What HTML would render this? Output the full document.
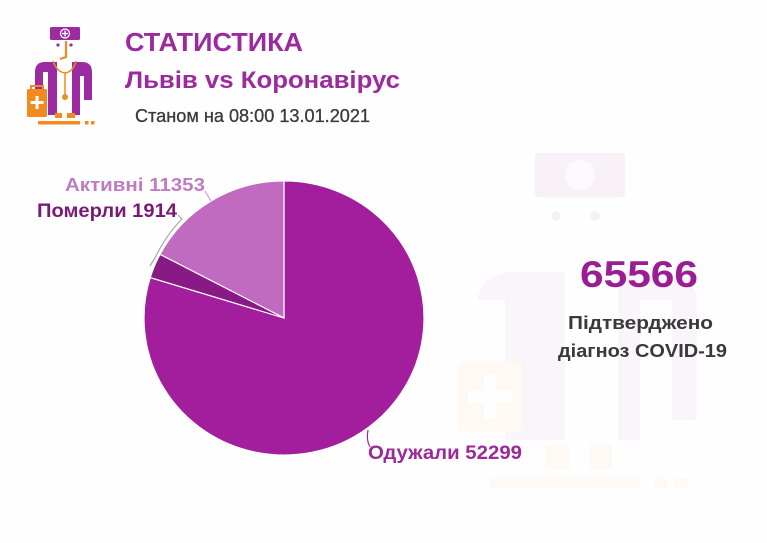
<!DOCTYPE html>
<html><head><meta charset="utf-8"><style>
html,body{margin:0;padding:0;background:#fff;}
svg{display:block;}
text{font-family:"Liberation Sans",sans-serif;}
</style></head><body>
<svg width="767" height="543" viewBox="0 0 767 543" xmlns="http://www.w3.org/2000/svg">
<rect width="767" height="543" fill="#fefefe"/>
<!-- watermark -->
<g>
  <rect x="535" y="153" width="90" height="44" rx="3" fill="#f8f1f8"/>
  <circle cx="580" cy="175" r="15" fill="#fcf9fc"/>
  <circle cx="556" cy="216" r="5" fill="#f7f0f7"/>
  <circle cx="595" cy="216" r="5" fill="#f7f0f7"/>
  <path d="M478 300 Q480 275 510 272 L545 272 L545 440 L505 440 L505 300 Z" fill="#faf5fa"/>
  <path d="M640 272 L665 272 Q695 275 697 300 L697 420 L672 420 L672 300 L640 300 Z" fill="#faf5fa"/>
  <rect x="545" y="272" width="20" height="168" fill="#faf5fa"/>
  <rect x="618" y="272" width="22" height="168" fill="#faf5fa"/>
  <rect x="458" y="362" width="64" height="70" rx="4" fill="#fef9f2"/>
  <rect x="484" y="375" width="12" height="44" fill="#fefefe"/>
  <rect x="468" y="391" width="44" height="12" fill="#fefefe"/>
  <rect x="545" y="445" width="24" height="24" fill="#fefaf3"/>
  <rect x="590" y="445" width="22" height="24" fill="#fefaf3"/>
  <rect x="490" y="478" width="150" height="10" fill="#fefaf3"/>
  <rect x="655" y="478" width="12" height="10" fill="#fefaf3"/>
  <rect x="675" y="478" width="12" height="10" fill="#fefaf3"/>
</g>

<!-- logo -->
<g>
  <rect x="50" y="27" width="30" height="13" rx="1.5" fill="#9c2aa0"/>
  <circle cx="65" cy="33.5" r="4.5" fill="none" stroke="#fff" stroke-width="1.3"/>
  <rect x="64.4" y="30.5" width="1.3" height="6" fill="#fff"/>
  <rect x="62" y="32.9" width="6" height="1.3" fill="#fff"/>
  <circle cx="58" cy="45" r="1.6" fill="#9c2aa0"/>
  <circle cx="71" cy="45" r="1.6" fill="#9c2aa0"/>
  <path d="M66 41 L66 57 L60 59" fill="none" stroke="#f28a1e" stroke-width="2.2"/>
  <path d="M35 115 L35 72 Q35 62 45 62 L57 62 L57 115 Z" fill="#9c2aa0"/>
  <path d="M72 62 L82 62 Q92 62 92 72 L92 100 L84 100 L84 76 L80 76 L80 115 L72 115 Z" fill="#9c2aa0"/>
  <rect x="43" y="72" width="5" height="43" fill="#fff"/>
  <rect x="57" y="62" width="15" height="48" fill="#fff"/>
  <path d="M53 61 Q57 72 65 73 Q73 72 76 61" fill="none" stroke="#f28a1e" stroke-width="1.5"/>
  <path d="M65 73 L65 94" stroke="#f28a1e" stroke-width="1.5"/>
  <circle cx="65" cy="97" r="3" fill="#f28a1e"/>
  <path d="M31 90 L31 86 L43 86 L43 90" fill="none" stroke="#f28a1e" stroke-width="2"/>
  <rect x="27" y="89" width="20" height="28" rx="1.5" fill="#f28a1e"/>
  <rect x="35.5" y="96" width="3" height="13" fill="#fff"/>
  <rect x="30.5" y="101" width="13" height="3" fill="#fff"/>
  <rect x="55" y="113" width="7" height="5" fill="#f28a1e"/>
  <rect x="67" y="113" width="8" height="5" fill="#f28a1e"/>
  <rect x="38" y="121" width="42" height="3.5" fill="#f28a1e"/>
  <rect x="85" y="121" width="3.5" height="3.5" fill="#f28a1e"/>
  <rect x="91" y="121" width="3.5" height="3.5" fill="#f28a1e"/>
</g>

<!-- header texts -->
<text x="125" y="51" font-size="26" font-weight="bold" fill="#9c2a9e" textLength="178" lengthAdjust="spacingAndGlyphs">СТАТИСТИКА</text>
<text x="125" y="88" font-size="24.5" font-weight="bold" fill="#9c2a9e" textLength="275" lengthAdjust="spacingAndGlyphs">Львів vs Коронавірус</text>
<text x="135" y="122" font-size="18.5" fill="#3a3a3a" stroke="#3a3a3a" stroke-width="0.3" textLength="235" lengthAdjust="spacingAndGlyphs">Станом на 08:00 13.01.2021</text>

<!-- pie -->
<g transform="translate(284,318) scale(1,0.979)">
  <path d="M0,0 L-133.76,-41.3 A140,140 0 1 0 0,-140 Z" fill="#a21e9d" stroke="#fff" stroke-width="1.2"/>
  <path d="M0,0 L0,-140 A140,140 0 0 0 -124,-65 Z" fill="#c06bbf" stroke="#fff" stroke-width="1.2"/>
  <path d="M0,0 L-124,-65 A140,140 0 0 0 -133.76,-41.3 Z" fill="#891a85" stroke="#fff" stroke-width="1.2"/>
</g>

<!-- leader lines -->
<path d="M205 191 Q208 196 211 201" fill="none" stroke="#c9a6c9" stroke-width="1.2"/>
<path d="M178 215 L182 219 Q166 235 155 258 L150 266" fill="none" stroke="#a8a8a8" stroke-width="1.2"/>
<path d="M368 430 Q366 440 370 447" fill="none" stroke="#9b2a97" stroke-width="1.2"/>

<!-- pie labels -->
<text x="65" y="191" font-size="18.5" font-weight="bold" fill="#c07cc0" textLength="140" lengthAdjust="spacingAndGlyphs">Активні 11353</text>
<text x="37" y="217" font-size="19" font-weight="bold" fill="#7a1a78" textLength="140" lengthAdjust="spacingAndGlyphs">Померли 1914</text>
<text x="368" y="459" font-size="19" font-weight="bold" fill="#9b2a97" textLength="154" lengthAdjust="spacingAndGlyphs">Одужали 52299</text>

<!-- right summary -->
<text x="580" y="287" font-size="37" font-weight="bold" fill="#9a1d94" textLength="118" lengthAdjust="spacingAndGlyphs">65566</text>
<text x="568" y="329" font-size="18.5" font-weight="bold" fill="#3a3a3a" textLength="145" lengthAdjust="spacingAndGlyphs">Підтверджено</text>
<text x="558" y="357" font-size="18.5" font-weight="bold" fill="#3a3a3a" textLength="169" lengthAdjust="spacingAndGlyphs">діагноз COVID-19</text>
</svg>
</body></html>
